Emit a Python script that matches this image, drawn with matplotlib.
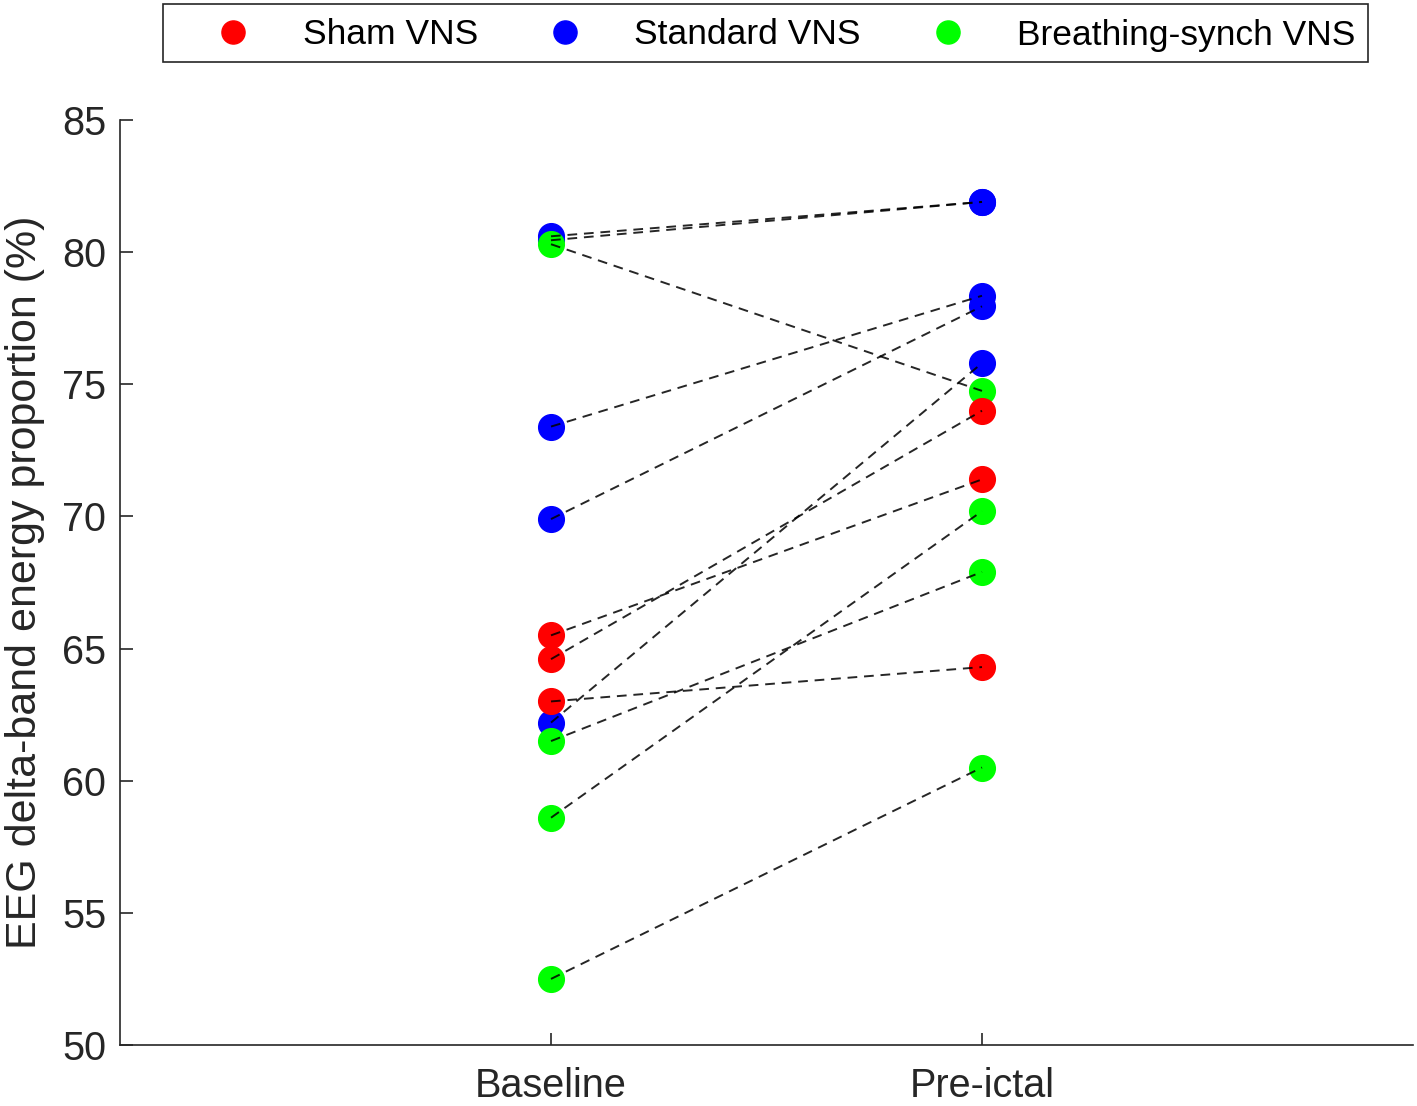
import matplotlib.pyplot as plt
from matplotlib.patches import Rectangle
import numpy as np

plt.rcParams['font.family'] = ['Liberation Sans', 'DejaVu Sans']

# values (baseline -> pre-ictal, one entry per animal)
sham_base = [65.5, 64.6, 63.0]
sham_pre = [71.4, 74.0, 64.3]

std_base = [80.6, 80.45, 73.4, 69.9, 62.2]
std_pre = [81.9, 81.9, 78.35, 77.95, 75.8]

breath_base = [80.3, 61.5, 58.6, 52.5]
breath_pre = [74.75, 67.9, 70.2, 60.5]

phases = ["Baseline", "Pre-ictal"]

groups = [
    ("Standard VNS", std_base, std_pre, "#0000ff"),
    ("Breathing-synch VNS", breath_base, breath_pre, "#00ff00"),
    ("Sham VNS", sham_base, sham_pre, "#ff0000"),
]

W, H = 1417, 1106
fig = plt.figure(figsize=(W/100, H/100), dpi=100)
ax = fig.add_axes([120/W, 61/H, 1293/W, 925/H])

xpos = np.arange(1, len(phases) + 1)
handles = {}
for name, base, pre, col in groups:
    h, = ax.plot(np.full(len(base), xpos[0]), base, "o", ms=18.5, color=col,
                 mec=col, zorder=2, label=name)
    ax.plot(np.full(len(pre), xpos[1]), pre, "o", ms=18.5, color=col,
            mec=col, zorder=2)
    handles[name] = h

# dashed lines joining each animal
for name, base, pre, col in groups:
    for b, p in zip(base, pre):
        ax.plot(xpos, [b, p], color="black", lw=1.4, dashes=(5, 3.5),
                alpha=0.85, zorder=3)

ax.set_xlim(0, 3)
ax.set_ylim(50, 85)
ax.set_xticks(xpos)
ax.set_xticklabels(phases)
ax.set_yticks(np.arange(50, 86, 5))
ax.tick_params(direction="in", length=9, width=1.2, colors="#262626",
               labelsize=28.5, pad=10)
ax.tick_params(axis="x", pad=16)
for s in ["top", "right"]:
    ax.spines[s].set_visible(False)
for s in ["left", "bottom"]:
    ax.spines[s].set_color("#262626")
    ax.spines[s].set_linewidth(1.2)
ax.set_ylabel("EEG delta-band energy proportion (%)", fontsize=31,
              color="#262626", labelpad=12)

# legend: entries without frame, box drawn separately (entries sit off-centre)
order = ["Sham VNS", "Standard VNS", "Breathing-synch VNS"]
leg = fig.legend([handles[k] for k in order], order, ncol=3,
                 loc="center", bbox_to_anchor=(785.5/W, 1 - 35/H),
                 fontsize=25.5, handlelength=1.0, handletextpad=1.47,
                 columnspacing=1.95, borderpad=0, borderaxespad=0,
                 frameon=False, markerscale=0.9)
fig.patches.append(Rectangle((163/W, 1 - 62/H), 1205/W, 58/H,
                             transform=fig.transFigure, fill=False,
                             edgecolor="#262626", lw=1.2))

fig.savefig("out.png", dpi=100)
